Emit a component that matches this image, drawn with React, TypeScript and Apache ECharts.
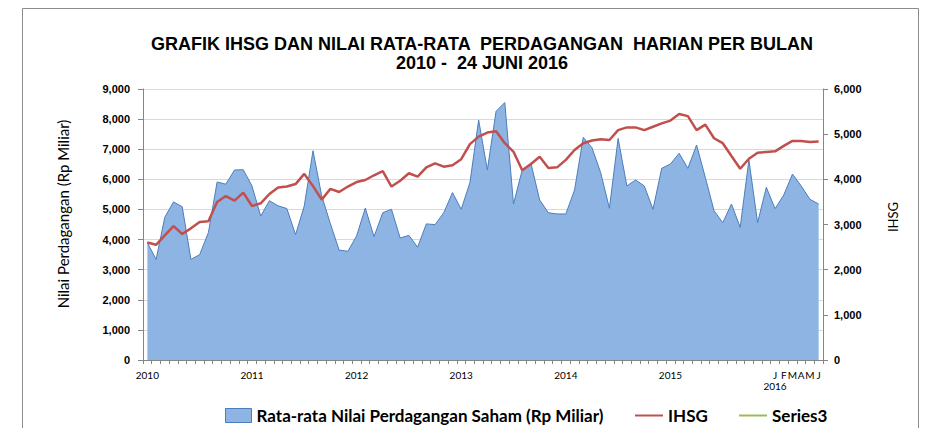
import React, { useEffect, useRef } from 'react';
import * as echarts from 'echarts';

const years = [2010, 2011, 2012, 2013, 2014, 2015, 2016];
const months2016 = ['J', 'F', 'M', 'A', 'M', 'J'];
const categories: string[] = [];
for (const y of years) {
  const last = y === 2016 ? 6 : 12;
  for (let m = 1; m <= last; m++) categories.push(`${y}-${String(m).padStart(2, '0')}`);
}

// Rata-rata Nilai Perdagangan Saham (Rp Miliar), monthly Jan 2010 - Jun 2016
const tradingValue = [
  3900, 3340, 4740, 5250, 5090, 3340, 3500, 4230, 5910, 5840, 6310, 6320,
  5780, 4780, 5290, 5120, 5030, 4160, 5120, 6950, 5450, 4520, 3650, 3610,
  4120, 5045, 4095, 4890, 5005, 4050, 4140, 3745, 4520, 4495, 4890, 5560,
  5005, 5890, 7970, 6310, 8260, 8550, 5180, 6310, 6530, 5315, 4890, 4850,
  4850, 5645, 7395, 7050, 6220, 5040, 7360, 5780, 5980, 5780, 5005, 6365,
  6510, 6865, 6365, 7140, 6065, 4960, 4560, 5180, 4405, 6640, 4560, 5735,
  5025, 5480, 6175, 5780, 5335, 5180,
];

// IHSG monthly close
const ihsg = [
  2600, 2550, 2760, 2965, 2790, 2915, 3055, 3070, 3500, 3630, 3530, 3705,
  3410, 3470, 3675, 3820, 3840, 3895, 4120, 3850, 3550, 3790, 3720, 3840,
  3940, 3985, 4090, 4180, 3840, 3970, 4135, 4060, 4265, 4355, 4280, 4310,
  4445, 4780, 4945, 5035, 5065, 4800, 4610, 4200, 4340, 4500, 4250, 4265,
  4430, 4650, 4800, 4860, 4885, 4870, 5090, 5150, 5150, 5090, 5165, 5240,
  5300, 5445, 5400, 5090, 5210, 4910, 4800, 4515, 4235, 4455, 4590, 4605,
  4620, 4740, 4850, 4850, 4825, 4835,
];

const series3: number[] = [];

const seriesNames = ['Rata-rata Nilai Perdagangan Saham (Rp Miliar)', 'IHSG', 'Series3'];
const titleLines = ['GRAFIK IHSG DAN NILAI RATA-RATA  PERDAGANGAN  HARIAN PER BULAN', '2010 -  24 JUNI 2016'];
const leftAxisName = 'Nilai Perdagangan (Rp Miliar)';
const rightAxisName = 'IHSG';

function xLabel(cat: string): string {
  const [y, m] = cat.split('-').map(Number);
  if (y === 2016) return m === 1 ? `${months2016[0]}\n2016` : months2016[m - 1];
  return m === 1 ? String(y) : '';
}

const fmt = (v: number) => v.toLocaleString('en-US');

export default function App() {
  const ref = useRef<HTMLDivElement>(null);
  useEffect(() => {
    if (!ref.current) return;
    const chart = echarts.init(ref.current, undefined, { renderer: 'svg' });
    const axisGray = '#868686';
    const legendText = { fontFamily: 'Lato', fontWeight: 'bold', fontSize: 17, color: '#000' };
    const hiddenSymbol = { opacity: 0 };
    chart.setOption({
      animation: false,
      backgroundColor: '#fff',
      graphic: [
        {
          type: 'rect',
          shape: { x: 22.5, y: 8.5, width: 896, height: 440 },
          style: { fill: 'none', stroke: '#8c8c8c', lineWidth: 1 },
          silent: true,
        },
        {
          type: 'text',
          x: 482,
          y: 44,
          style: {
            text: titleLines[0],
            fontFamily: 'Liberation Sans',
            fontWeight: 'bold',
            fontSize: 18,
            fill: '#000',
            align: 'center',
            verticalAlign: 'middle',
          },
        },
        {
          type: 'text',
          x: 482,
          y: 63,
          style: {
            text: titleLines[1],
            fontFamily: 'Liberation Sans',
            fontWeight: 'bold',
            fontSize: 18,
            fill: '#000',
            align: 'center',
            verticalAlign: 'middle',
          },
        },
        {
          type: 'text',
          x: 63,
          y: 214,
          rotation: Math.PI / 2,
          style: {
            text: leftAxisName,
            fontFamily: 'Lato',
            fontSize: 15,
            fill: '#000',
            align: 'center',
            verticalAlign: 'middle',
          },
        },
        {
          type: 'text',
          x: 893,
          y: 217,
          rotation: Math.PI / 2,
          style: {
            text: rightAxisName,
            fontFamily: 'Lato',
            fontSize: 13,
            fill: '#000',
            align: 'center',
            verticalAlign: 'middle',
          },
        },
      ],
      grid: { left: 143, right: 108, top: 89, bottom: 68 },
      legend: [
        {
          left: 220,
          top: 402,
          itemWidth: 26,
          itemHeight: 14,
          data: [
            {
              name: seriesNames[0],
              icon: 'rect',
              itemStyle: { color: '#8EB4E3', borderColor: '#4A7EBB', borderWidth: 1 },
            },
          ],
          textStyle: legendText,
        },
        {
          left: 629,
          top: 402,
          itemWidth: 28,
          itemHeight: 14,
          data: [{ name: seriesNames[1], itemStyle: hiddenSymbol, lineStyle: { width: 2 } }],
          textStyle: legendText,
        },
        {
          left: 733,
          top: 402,
          itemWidth: 28,
          itemHeight: 14,
          data: [{ name: seriesNames[2], itemStyle: hiddenSymbol, lineStyle: { width: 2 } }],
          textStyle: legendText,
        },
      ],
      xAxis: {
        type: 'category',
        data: categories,
        boundaryGap: true,
        axisLine: { show: true, lineStyle: { color: axisGray } },
        axisTick: { show: true, interval: 0, length: 4, lineStyle: { color: axisGray } },
        axisLabel: {
          interval: 0,
          formatter: (v: string) => xLabel(v),
          fontFamily: 'Lato',
          fontSize: 10,
          lineHeight: 11,
          color: '#000',
          margin: 9,
        },
        splitLine: { show: false },
      },
      yAxis: [
        {
          type: 'value',
          position: 'left',
          min: 0,
          max: 9000,
          interval: 1000,
          axisLine: { show: true, lineStyle: { color: axisGray } },
          axisTick: { show: true, length: 5, lineStyle: { color: axisGray } },
          axisLabel: {
            formatter: fmt,
            fontFamily: 'Liberation Sans',
            fontWeight: 'bold',
            fontSize: 11,
            color: '#000',
            margin: 13,
          },
          splitLine: { show: true, lineStyle: { color: '#D9D9D9', width: 1 } },
        },
        {
          type: 'value',
          position: 'right',
          min: 0,
          max: 6000,
          interval: 1000,
          axisLine: { show: true, lineStyle: { color: axisGray } },
          axisTick: { show: true, length: 5, lineStyle: { color: axisGray } },
          axisLabel: {
            formatter: fmt,
            fontFamily: 'Liberation Sans',
            fontWeight: 'bold',
            fontSize: 11,
            color: '#000',
            margin: 11,
          },
          splitLine: { show: false },
        },
      ],
      series: [
        {
          name: seriesNames[0],
          type: 'line',
          data: tradingValue,
          symbol: 'none',
          z: 1,
          lineStyle: { color: '#4A7EBB', width: 1 },
          itemStyle: { color: '#8EB4E3' },
          areaStyle: { color: '#8EB4E3', opacity: 1 },
        },
        {
          name: seriesNames[1],
          type: 'line',
          yAxisIndex: 1,
          data: ihsg,
          symbol: 'none',
          z: 3,
          lineStyle: { color: '#C0504D', width: 2.5 },
          itemStyle: { color: '#C0504D' },
        },
        {
          name: seriesNames[2],
          type: 'line',
          data: series3,
          symbol: 'none',
          lineStyle: { color: '#9BBB59', width: 2 },
          itemStyle: { color: '#9BBB59' },
        },
      ],
    });
    return () => chart.dispose();
  }, []);
  return (
    <div
      ref={ref}
      style={{ position: 'fixed', left: 0, top: 0, width: 931, height: 428, background: '#fff' }}
    />
  );
}
